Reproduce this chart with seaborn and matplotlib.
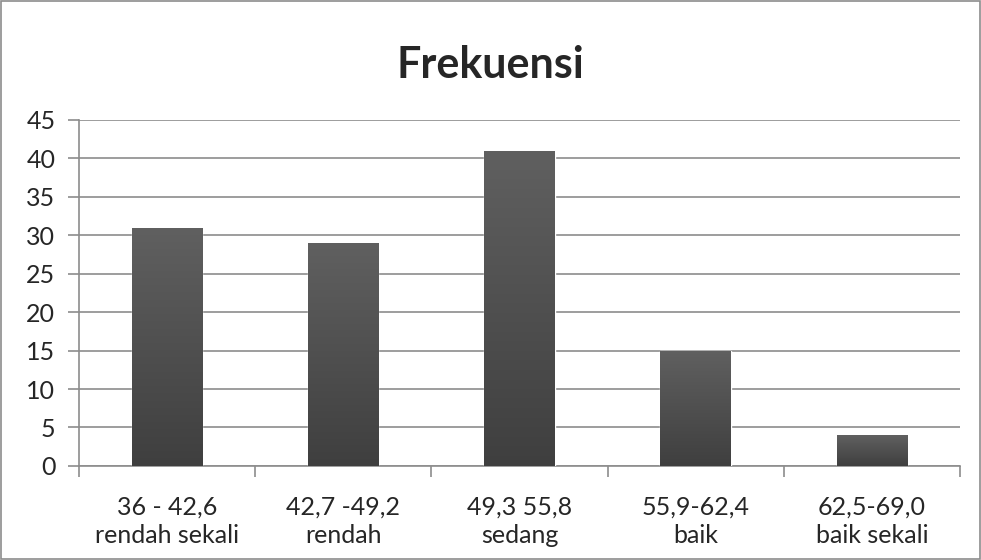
import numpy as np
import pandas as pd
import seaborn as sns
import matplotlib.pyplot as plt
from matplotlib.colors import LinearSegmentedColormap

# Data.
categories = [
    "36 - 42,6\nrendah sekali",
    "42,7 -49,2\nrendah",
    "49,3 55,8\nsedang",
    "55,9-62,4\nbaik",
    "62,5-69,0\nbaik sekali",
]
frekuensi = [31, 29, 41, 15, 4]
y_ticks = [0, 5, 10, 15, 20, 25, 30, 35, 40, 45]

df = pd.DataFrame({"kelas": categories, "frekuensi": frekuensi})

sns.set_style("white")
plt.rcParams["font.family"] = ["Lato", "DejaVu Sans"]

fig = plt.figure(figsize=(9.81, 5.60), dpi=100)
ax = fig.add_axes([0.0805, 0.168, 0.898, 0.618])

sns.barplot(data=df, x="kelas", y="frekuensi", color="#4a4a4a", width=0.4, ax=ax)

# Gradient fill on each bar (lighter on top).
cmap = LinearSegmentedColormap.from_list("g", ["#3f3f3f", "#606060"])
grad = np.linspace(0, 1, 256).reshape(-1, 1)
for p in ax.patches:
    x0, y0 = p.get_x(), p.get_y()
    w, h = p.get_width(), p.get_height()
    img = ax.imshow(grad, cmap=cmap, origin="lower", aspect="auto",
                    extent=[x0, x0 + w, y0, y0 + h], zorder=3)
    img.set_clip_path(p)
    p.set_zorder(3)

ax.set_xlim(-0.5, 4.5)
ax.set_ylim(0, 45)
ax.set_yticks(y_ticks)
ax.set_xticks(np.arange(5))
ax.set_xticklabels(categories)
ax.set_xticks(np.arange(-0.5, 5, 1), minor=True)
ax.yaxis.grid(True, color="#8c8c8c", linewidth=1.2)
ax.set_axisbelow(True)

for s in ["top", "right"]:
    ax.spines[s].set_visible(False)
for s in ["left", "bottom"]:
    ax.spines[s].set_color("#8c8c8c")
    ax.spines[s].set_linewidth(1.2)

ax.tick_params(axis="y", which="major", left=True, length=8, color="#8c8c8c",
               width=1.2, labelsize=18, pad=9)
ax.tick_params(axis="x", which="major", bottom=False, labelsize=18, pad=18)
ax.tick_params(axis="x", which="minor", bottom=True, length=8, color="#8c8c8c",
               width=1.2)
for lbl in ax.get_xticklabels():
    lbl.set_linespacing(1.25)

ax.set_xlabel("")
ax.set_ylabel("")
fig.suptitle("Frekuensi", fontsize=31, fontweight="bold", y=0.92)

fig.patches.append(plt.Rectangle((0.001, 0.001), 0.998, 0.997, transform=fig.transFigure,
                                 fill=False, edgecolor="#8c8c8c", linewidth=1.2))

fig.savefig("out.png", dpi=100)
